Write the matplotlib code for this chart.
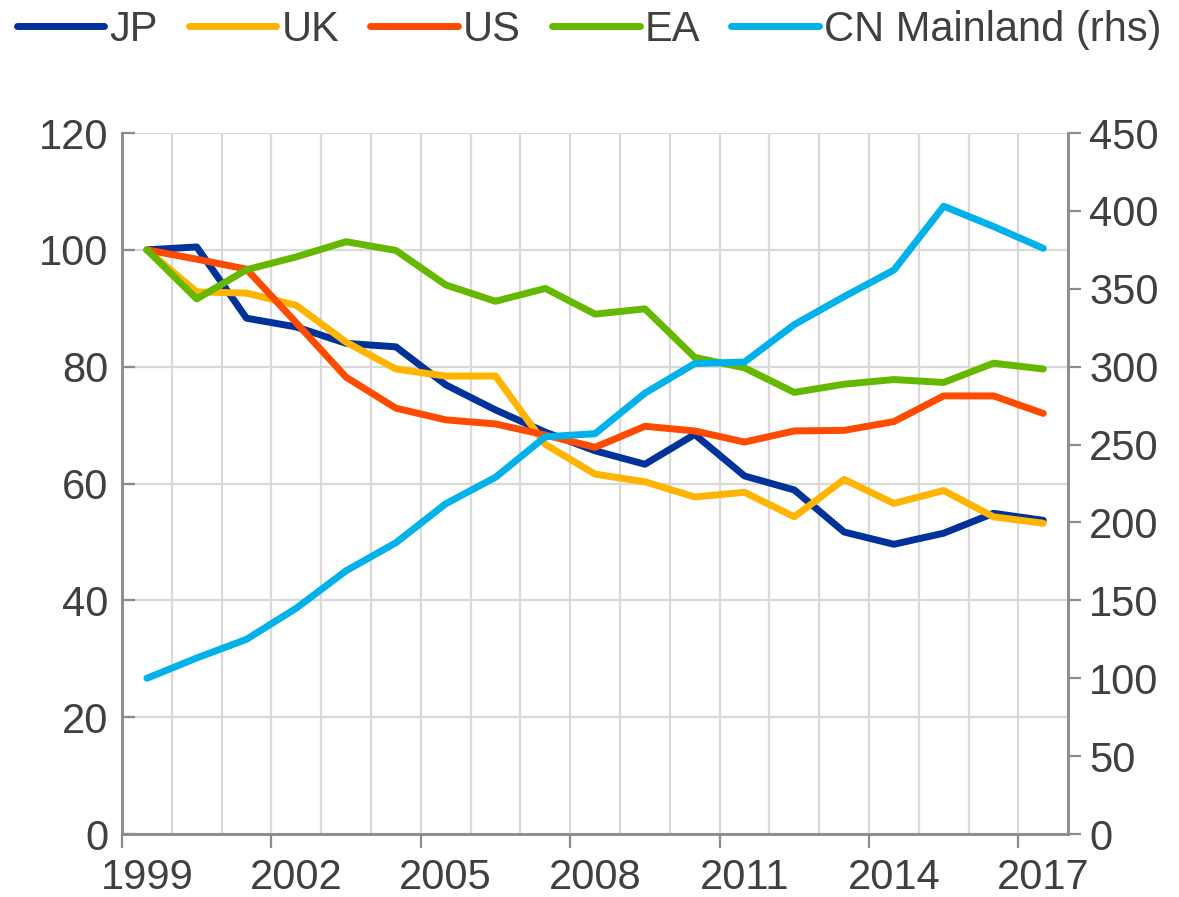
import matplotlib
matplotlib.use("Agg")
import matplotlib.pyplot as plt
import numpy as np

plt.rcParams['font.family'] = ['Liberation Sans', 'DejaVu Sans']

years = list(range(1999, 2018))

jp = [100, 100.5, 88.3, 86.8, 84.0, 83.4, 76.9, 72.6, 68.8, 65.6, 63.3, 68.4,
      61.3, 58.9, 51.7, 49.6, 51.5, 54.9, 53.7]
uk = [100, 92.8, 92.6, 90.5, 84.2, 79.6, 78.4, 78.4, 66.7, 61.6, 60.3, 57.7,
      58.5, 54.3, 60.7, 56.6, 58.8, 54.3, 53.2]
us = [100, 98.4, 96.7, 87.5, 78.2, 72.9, 70.9, 70.2, 68.3, 66.2, 69.8, 69.0,
      67.1, 69.0, 69.1, 70.6, 75.0, 75.0, 72.0]
ea = [100, 91.6, 96.6, 98.8, 101.4, 99.9, 94.0, 91.2, 93.4, 89.0, 89.9, 81.6,
      79.8, 75.6, 77.0, 77.8, 77.3, 80.6, 79.6]
cn = [100, 113, 125, 145, 169, 187, 212, 229, 255, 257, 283, 302,
      303, 327, 345, 362, 403, 390, 376]

labels = ['JP', 'UK', 'US', 'EA', 'CN Mainland (rhs)']
colors = ['#003299', '#FFB400', '#FF4B00', '#65B800', '#00B1EA']

grid_c = '#d9d9d9'
spine_c = '#8c8c8c'
text_c = '#404040'
fs = 30

fig = plt.figure(figsize=(11.79, 8.97), dpi=100)
ax = fig.add_axes([0.1035, 0.0702, 0.8025, 0.7815])
ax2 = ax.twinx()

lw = 5
handles = []
for vals, lab, col in zip([jp, uk, us, ea], labels[:4], colors[:4]):
    h, = ax.plot(years, vals, color=col, lw=lw, label=lab, solid_capstyle='round')
    handles.append(h)
h, = ax2.plot(years, cn, color=colors[4], lw=lw, label=labels[4], solid_capstyle='round')
handles.append(h)

ax.set_xlim(1998.5, 2017.5)
ax.set_ylim(0, 120)
ax2.set_ylim(0, 450)

ax.set_yticks(np.arange(0, 121, 20))
ax2.set_yticks(np.arange(0, 451, 50))
ax.set_xticks(years[::3])
ax.set_xticks(np.arange(1998.5, 2018, 1), minor=True)

ax.grid(axis='y', color=grid_c, lw=1.6)
ax.grid(axis='x', which='minor', color=grid_c, lw=1.6)
ax.set_axisbelow(True)

ax.tick_params(axis='x', which='major', length=0, pad=17, labelsize=fs, labelcolor=text_c)
ax.tick_params(axis='x', which='minor', length=0)
ax.tick_params(axis='y', direction='in', length=9, width=1.6, color=spine_c,
               labelsize=fs, labelcolor=text_c, pad=10)
ax2.tick_params(axis='y', direction='out', length=9, width=1.6, color=spine_c,
                labelsize=fs, labelcolor=text_c, pad=6)

# 3-year tick marks on the bottom axis
sec = ax.secondary_xaxis('bottom')
sec.set_xticks(np.arange(1998.5, 2018, 3))
sec.tick_params(length=10, width=1.6, color=spine_c, labelbottom=False)
sec.spines['bottom'].set_visible(False)

for a in (ax, ax2):
    a.spines['top'].set_visible(False)
    for s in ('left', 'right', 'bottom'):
        a.spines[s].set_color(spine_c)
        a.spines[s].set_linewidth(1.8)

fig.legend(handles=handles, labels=labels, loc='center left',
           bbox_to_anchor=(0.0, 1 - 30 / 897), ncol=5, frameon=False, fontsize=fs,
           handlelength=2.1, handletextpad=0.12, columnspacing=0.75,
           labelcolor=text_c, borderaxespad=0)

fig.savefig('out.png', dpi=100)
